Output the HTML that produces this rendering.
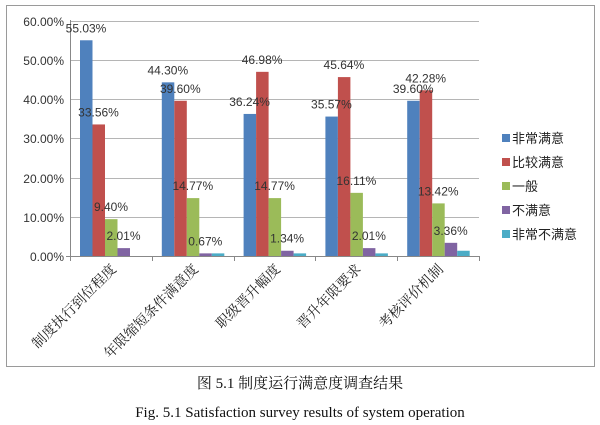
<!DOCTYPE html>
<html><head><meta charset="utf-8"><style>
html,body{margin:0;padding:0;background:#fff;width:600px;height:425px;overflow:hidden}
</style></head><body>
<svg width="600" height="425" xmlns="http://www.w3.org/2000/svg">
<rect x="6.5" y="5.5" width="588" height="361" fill="#fff" stroke="#9a9a9a" stroke-width="1"/>
<g stroke="#b5b5b5" stroke-width="1">
<line x1="70" y1="21.5" x2="479" y2="21.5"/>
<line x1="70" y1="60.5" x2="479" y2="60.5"/>
<line x1="70" y1="99.5" x2="479" y2="99.5"/>
<line x1="70" y1="138.5" x2="479" y2="138.5"/>
<line x1="70" y1="178.5" x2="479" y2="178.5"/>
<line x1="70" y1="217.5" x2="479" y2="217.5"/>
</g>
<g font-family="Liberation Sans, sans-serif" font-size="12" fill="#333" text-anchor="end">
<text x="64" y="26">60.00%</text><text x="64" y="65">50.00%</text><text x="64" y="104">40.00%</text>
<text x="64" y="143">30.00%</text><text x="64" y="183">20.00%</text><text x="64" y="222">10.00%</text>
<text x="64" y="261">0.00%</text>
</g>
<g id="bars"></g>
<line x1="70.5" y1="20" x2="70.5" y2="256" stroke="#888"/>
<line x1="66" y1="256.5" x2="479" y2="256.5" stroke="#888"/>
<g stroke="#888"><line x1="70.5" y1="256" x2="70.5" y2="261"/><line x1="152.5" y1="256" x2="152.5" y2="261"/><line x1="234.5" y1="256" x2="234.5" y2="261"/><line x1="315.5" y1="256" x2="315.5" y2="261"/><line x1="397.5" y1="256" x2="397.5" y2="261"/><line x1="479.5" y1="256" x2="479.5" y2="261"/></g>
<g font-family="Liberation Serif, Noto Serif CJK SC, serif" font-size="14" fill="#222" text-anchor="end">
<text transform="translate(117,270) rotate(-45)">制度执行到位程度</text>
<text transform="translate(199,270) rotate(-45)">年限缩短条件满意度</text>
<text transform="translate(281,270) rotate(-45)">职级晋升幅度</text>
<text transform="translate(362,270) rotate(-45)">晋升年限要求</text>
<text transform="translate(444,270) rotate(-45)">考核评价机制</text>
</g>
<g font-family="Liberation Sans, Noto Sans CJK SC, sans-serif" font-size="13" fill="#222">
<rect x="502" y="134" width="8" height="8" fill="#4F81BD"/><text x="512" y="143">非常满意</text>
<rect x="502" y="158" width="8" height="8" fill="#C0504D"/><text x="512" y="167">比较满意</text>
<rect x="502" y="182" width="8" height="8" fill="#9BBB59"/><text x="512" y="191">一般</text>
<rect x="502" y="206" width="8" height="8" fill="#8064A2"/><text x="512" y="215">不满意</text>
<rect x="502" y="230" width="8" height="8" fill="#4BACC6"/><text x="512" y="239">非常不满意</text>
</g>
<g font-family="Liberation Serif, Noto Serif CJK SC, serif" fill="#111" text-anchor="middle">
<text x="300" y="388" font-size="15">图 5.1  制度运行满意度调查结果</text>
<text x="300" y="417" font-size="15">Fig. 5.1 Satisfaction survey results of system operation</text>
</g>
<g id="labels" font-family="Liberation Sans, sans-serif" font-size="12" fill="#333" text-anchor="middle"></g>
</svg>
<script>
var data=[[55.03,33.56,9.40,2.01,0],[44.30,39.60,14.77,0.67,0.67],[36.24,46.98,14.77,1.34,0.67],[35.57,45.64,16.11,2.01,0.67],[39.60,42.28,13.42,3.36,1.34]];
var cols=["#4F81BD","#C0504D","#9BBB59","#8064A2","#4BACC6"];
var ns="http://www.w3.org/2000/svg",b=document.getElementById("bars"),l=document.getElementById("labels");
data.forEach(function(d,i){var x0=70+i*81.8+10;d.forEach(function(v,j){if(!v)return;var h=v*3.92,x=x0+j*12.5;
var r=document.createElementNS(ns,"rect");r.setAttribute("x",x);r.setAttribute("y",256-h);r.setAttribute("width",12.5);r.setAttribute("height",h);r.setAttribute("fill",cols[j]);b.appendChild(r);
if(j<4){var t=document.createElementNS(ns,"text");t.setAttribute("x",x+6);t.setAttribute("y",256-h-8);t.textContent=v.toFixed(2)+"%";l.appendChild(t);}});});
</script>
</body></html>
